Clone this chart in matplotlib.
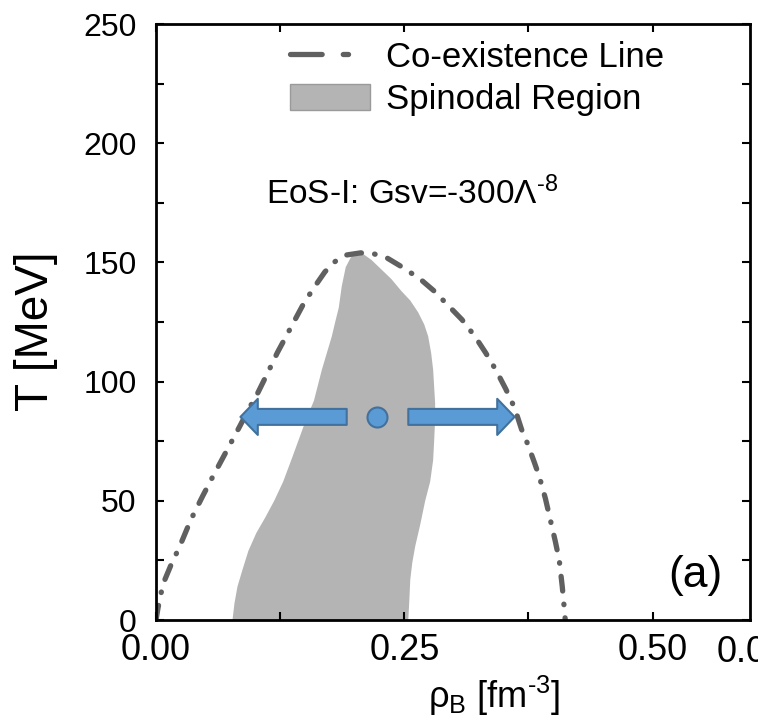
import numpy as np
import matplotlib
matplotlib.use("Agg")
import matplotlib.pyplot as plt
from matplotlib.lines import Line2D
from matplotlib.patches import Patch, FancyArrowPatch
from matplotlib.ticker import MultipleLocator, FormatStrFormatter
import matplotlib.transforms as mtransforms

plt.rcParams["font.family"] = ["Liberation Sans", "DejaVu Sans"]
plt.rcParams["mathtext.fontset"] = "custom"
plt.rcParams["mathtext.rm"] = "Liberation Sans"
plt.rcParams["mathtext.it"] = "Liberation Sans:italic"
plt.rcParams["mathtext.bf"] = "Liberation Sans:bold"

# Co-existence line (rho_B [fm^-3], T [MeV])
coex_rho = [0.000, 0.002, 0.007, 0.015, 0.024, 0.035, 0.047, 0.057, 0.066, 0.075,
            0.084, 0.094, 0.101, 0.114, 0.122, 0.131, 0.140, 0.149, 0.160, 0.170,
            0.179, 0.190, 0.206, 0.220, 0.232, 0.248, 0.266, 0.280, 0.294, 0.308,
            0.321, 0.332, 0.342, 0.352, 0.361, 0.368, 0.374, 0.381, 0.386, 0.392,
            0.397, 0.402, 0.406, 0.409, 0.411, 0.412]
coex_T = [0, 5, 15, 23, 31, 42, 52, 60, 67, 74,
          81, 89, 94, 105, 112, 119, 126, 133, 140, 146,
          150, 153, 154, 153.5, 152, 148, 143, 138, 132, 126,
          119, 112, 105, 97, 89, 80, 74, 66, 60, 51,
          42, 33, 25, 14, 5, 0]

# Spinodal region boundaries
spin_left_rho = [0.077, 0.079, 0.082, 0.087, 0.093, 0.101, 0.110, 0.119, 0.128, 0.137,
                 0.144, 0.151, 0.159, 0.167, 0.172, 0.177, 0.181, 0.184, 0.187, 0.191,
                 0.196, 0.201]
spin_left_T = [0, 7, 14, 21, 29, 36.5, 43, 50, 58, 68,
               76, 84, 92, 105, 112, 119, 126, 131, 140, 148,
               152, 154]
spin_right_rho = [0.207, 0.217, 0.227, 0.237, 0.247, 0.256, 0.264, 0.270, 0.274, 0.277,
                  0.279, 0.281, 0.281, 0.280, 0.279, 0.276, 0.271, 0.266, 0.261, 0.258,
                  0.256, 0.255, 0.254]
spin_right_T = [154, 151, 147, 143, 138, 134, 129, 124, 119, 112,
                105, 91, 84, 75, 67, 58, 50, 40, 31, 24,
                17, 8, 0]

# Arrow annotation (start point and direction)
point_rho, point_T = 0.222, 85.2
arrow_left = (0.192, 0.085)
arrow_right = (0.254, 0.361)

line_color = "#606060"
fill_color = "#B4B4B4"
blue = "#5B9BD5"
blue_edge = "#41719C"

fig = plt.figure(figsize=(7.58, 7.21), dpi=100)
ax = fig.add_axes([156 / 758, 1 - 620 / 721, 594 / 758, 596 / 721])

ax.fill(spin_left_rho + spin_right_rho, spin_left_T + spin_right_T,
        color=fill_color, lw=0, zorder=1)
ax.plot(coex_rho, coex_T, color=line_color, lw=3.8,
        linestyle=(0, (2.8, 2.5, 0.1, 2.5)), dash_capstyle="round", zorder=2)

# arrows and point
for x0, x1 in [arrow_left, arrow_right]:
    arr = FancyArrowPatch((x0, point_T), (x1, point_T),
                          arrowstyle="simple,head_length=12.5,head_width=26,tail_width=11.5",
                          mutation_scale=1, shrinkA=0, shrinkB=0,
                          facecolor=blue, edgecolor=blue_edge, lw=1.5, zorder=4)
    ax.add_patch(arr)
ax.plot([point_rho], [point_T], "o", ms=14.4, mfc=blue, mec=blue_edge, mew=1.5, zorder=5)

ax.set_xlim(0, 0.598)
ax.set_ylim(0, 250)
ax.xaxis.set_major_locator(MultipleLocator(0.25))
ax.xaxis.set_minor_locator(MultipleLocator(0.125))
ax.xaxis.set_major_formatter(FormatStrFormatter("%.2f"))
ax.yaxis.set_major_locator(MultipleLocator(50))
ax.yaxis.set_minor_locator(MultipleLocator(25))
ax.tick_params(which="both", direction="in", top=True, right=True, width=1.5, length=6)
ax.tick_params(axis="x", labelsize=26, pad=9)
ax.tick_params(axis="y", labelsize=23, pad=14)
for s in ax.spines.values():
    s.set_linewidth(2)

# neighbouring panel's first tick label, cut by the figure edge
trans = mtransforms.blended_transform_factory(ax.transData, ax.transAxes)
ax.text(0.6, -0.025, "0.00", transform=trans, fontsize=26, ha="center", va="top",
        clip_on=False)

ax.set_ylabel("T [MeV]", fontsize=33)
ax.yaxis.set_label_coords(-0.165, 0.485)
ax.set_xlabel(r"ρ$_\mathregular{B}$ [fm$^{\text{-3}}$]", fontsize=26)
ax.xaxis.set_label_coords(0.569, -0.09)

ax.text(0.111, 174.5, r"EoS-I: Gsv=-300Λ$^{\text{-8}}$", fontsize=24, ha="left", va="baseline")
ax.text(0.953, 0.075, "(a)", transform=ax.transAxes, fontsize=32, ha="right", va="center")

coex_handle = Line2D([], [], color=line_color, lw=3.8,
                     linestyle=(0, (6.0, 4.0, 1.0, 4.4, 0.1, 10)), dash_capstyle="round")
spin_handle = Patch(facecolor=fill_color, edgecolor="#9A9A9A", lw=1)
ax.legend([coex_handle, spin_handle], ["Co-existence Line", "Spinodal Region"],
          loc="upper left", bbox_to_anchor=(0.226, 0.972), borderaxespad=0, borderpad=0,
          frameon=False, fontsize=25, handlelength=2.3, handletextpad=0.45,
          handleheight=0.8, labelspacing=0.27)

fig.savefig("out.png", dpi=100)
